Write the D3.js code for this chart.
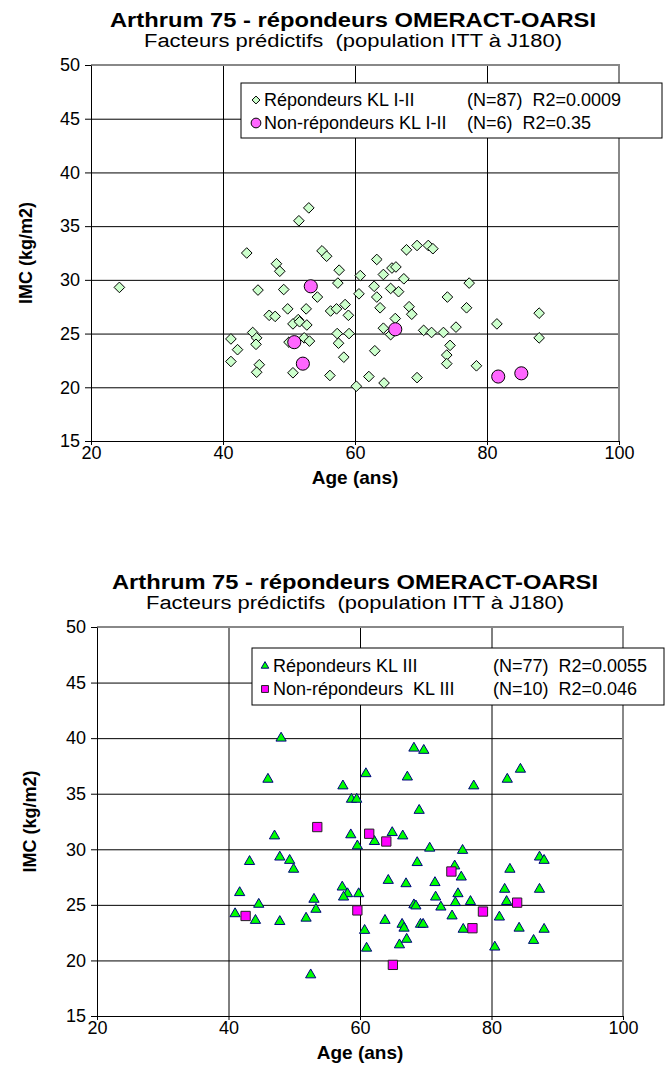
<!DOCTYPE html>
<html>
<head>
<meta charset="utf-8">
<script src="https://cdn.jsdelivr.net/npm/d3@7"></script>
<style>
  body { margin: 0; background: #fff; }
  svg text { font-family: "Liberation Sans", Arial, sans-serif; fill: #000; }
</style>
</head>
<body>
<div id="root"></div>
<script>
// ---- data ----
const titleText = "Arthrum 75 - répondeurs OMERACT-OARSI";
const subtitleText = "Facteurs prédictifs  (population ITT à J180)";
const xTicks = [20, 40, 60, 80, 100];
const yTicks = [15, 20, 25, 30, 35, 40, 45, 50];

// chart 1 : KL I-II
const rep12Age = [24.3,43.6,45.3,48.1,48.6,49.2,47.0,47.9,53.0,51.5,55.0,55.7,57.6,57.4,60.8,63.3,64.3,65.6,66.2,67.4,
  67.8,69.4,71.1,71.8,74.0,54.3,62.9,60.6,63.3,63.8,65.4,66.6,68.2,68.6,66.1,49.8,52.6,56.3,57.2,58.5,
  59.0,51.4,77.3,76.9,87.9,81.5,41.2,42.2,41.2,44.5,45.1,45.0,45.5,45.1,50.6,51.6,52.7,50.0,52.3,53.1,
  57.3,59.1,57.5,58.3,50.6,56.2,60.2,62.1,64.4,63.0,64.3,65.4,70.4,71.6,73.4,75.3,74.4,73.9,73.9,78.4,
  69.4,87.9];
const rep12Imc = [29.3,32.5,29.05,31.5,30.8,29.1,26.7,26.6,36.7,35.5,32.7,32.2,30.9,29.7,30.4,31.9,30.5,31.1,31.2,30.1,
  32.8,33.2,33.2,32.9,28.4,28.4,29.4,28.7,28.4,27.4,29.2,28.9,27.5,26.8,26.4,27.3,27.3,27.1,27.3,27.7,
  26.7,26.3,29.7,27.4,26.9,25.9,24.5,23.5,22.4,25.1,24.6,24.0,22.1,21.4,25.9,26.1,25.8,24.2,24.6,24.3,
  25.0,25.0,24.1,22.8,21.35,21.1,20.1,21.0,20.4,23.4,25.5,24.9,25.3,25.1,25.1,25.6,23.9,23.0,22.2,22.0,
  20.9,24.6];
const non12Age = [53.3, 50.8, 52.1, 66.1, 81.7, 85.2];
const non12Imc = [29.4, 24.2, 22.2, 25.4, 21.0, 21.3];
const legend12 = [
  ["Répondeurs KL I-II", "(N=87)  R2=0.0009"],
  ["Non-répondeurs KL I-II", "(N=6)  R2=0.35"]
];

// chart 2 : KL III
const rep3Age = [48.0,68.2,69.7,60.9,67.2,46.0,57.4,58.7,59.5,69.0,77.3,82.4,84.4,47.0,58.6,59.6,62.2,64.9,66.5,70.6,
  75.6,43.2,47.8,49.3,49.9,41.7,44.6,41.0,44.1,47.8,51.8,53.0,53.3,57.3,58.1,57.5,59.8,60.7,64.3,67.0,
  68.7,74.4,75.4,71.4,71.5,72.3,74.9,74.5,76.8,68.2,68.5,74.0,63.8,66.4,66.7,69.2,69.6,75.7,81.2,82.0,
  82.8,82.3,84.2,87.3,88.0,87.3,88.0,86.4,67.1,66.0,52.5,61.0,80.5];
const rep3Imc = [40.0,39.1,38.9,36.8,36.5,36.3,35.7,34.5,34.5,33.5,35.7,36.3,37.2,31.2,31.3,30.3,30.7,31.5,31.2,30.1,
  29.9,28.9,29.3,29.0,28.2,26.1,25.05,24.2,23.6,23.5,23.8,25.5,24.6,26.6,26.0,25.7,26.0,22.7,27.2,26.9,
  28.8,28.5,27.5,27.0,25.7,24.8,26.0,25.2,25.3,25.0,24.9,24.0,23.6,23.25,22.9,23.25,23.25,22.8,23.9,26.4,
  28.2,25.3,22.9,29.3,29.0,26.4,22.8,21.8,21.9,21.4,18.7,21.1,21.2];
const non3Age = [42.6, 53.5, 59.6, 61.4, 64.0, 65.0, 73.9, 77.1, 78.7, 83.9];
const non3Imc = [24.0, 32.0, 24.5, 31.4, 30.7, 19.6, 28.0, 22.9, 24.4, 25.2];
const legend3 = [
  ["Répondeurs KL III", "(N=77)  R2=0.0055"],
  ["Non-répondeurs  KL III", "(N=10)  R2=0.046"]
];

const svg = d3.select("#root")
  .append("svg")
  .attr("width", 666)
  .attr("height", 1082);

const zip = (a, b) => a.map((v, i) => [v, b[i]]);

// marker shapes
const shapes = {
  diamond: { type: d3.symbolDiamond2, size: 72, fill: "#ccffcc", stroke: "#000", sw: 1 },
  circle: { type: d3.symbolCircle, size: 135, fill: "#ff66ff", stroke: "#000", sw: 1 },
  triangle: { type: d3.symbolTriangle2, size: 75, fill: "#00ff00", stroke: "#000080", sw: 1 },
  square: { type: d3.symbolSquare2, size: 110, fill: "#ff00ff", stroke: "#222", sw: 1 }
};

function drawChart(c) {
  const x = d3.scaleLinear().domain([20, 100]).range([c.left, c.right]);
  const y = d3.scaleLinear().domain([15, 50]).range([c.bottom, c.top]);
  const g = svg.append("g");

  // title
  g.append("text")
    .attr("x", (c.left + c.right) / 2 + c.titleDx)
    .attr("y", c.titleY)
    .attr("text-anchor", "middle")
    .style("font-size", "21px")
    .style("font-weight", "bold")
    .attr("textLength", 486)
    .attr("lengthAdjust", "spacingAndGlyphs")
    .text(titleText);
  g.append("text")
    .attr("x", (c.left + c.right) / 2 + c.titleDx)
    .attr("y", c.titleY + 20)
    .attr("text-anchor", "middle")
    .style("font-size", "18px")
    .style("white-space", "pre")
    .attr("textLength", 418)
    .attr("lengthAdjust", "spacingAndGlyphs")
    .text(subtitleText);

  // gridlines
  g.append("g")
    .attr("transform", "translate(" + c.left + ",0)")
    .call(d3.axisLeft(y).tickValues(yTicks).tickSize(-(c.right - c.left)).tickFormat(""))
    .call(s => s.select(".domain").remove())
    .call(s => s.selectAll("line").attr("stroke", "#000"));
  g.append("g")
    .attr("transform", "translate(0," + c.bottom + ")")
    .call(d3.axisBottom(x).tickValues(xTicks).tickSize(-(c.bottom - c.top)).tickFormat(""))
    .call(s => s.select(".domain").remove())
    .call(s => s.selectAll("line").attr("stroke", "#000"));

  // plot border (grey top / right)
  g.append("path")
    .attr("d", `M${c.left},${c.top}H${c.right}V${c.bottom}`)
    .attr("fill", "none")
    .attr("stroke", "#888")
    .attr("stroke-width", 2);

  // axes
  g.append("g")
    .attr("transform", "translate(" + c.left + ",0)")
    .call(d3.axisLeft(y).tickValues(yTicks).tickSize(6).tickSizeOuter(0).tickPadding(5))
    .call(s => s.selectAll("text").style("font-size", "18px"));
  g.append("g")
    .attr("transform", "translate(0," + c.bottom + ")")
    .call(d3.axisBottom(x).tickValues(xTicks).tickSize(4).tickSizeOuter(0).tickPadding(1))
    .call(s => s.selectAll("text").style("font-size", "18px"));

  // axis titles
  g.append("text")
    .attr("x", (c.left + c.right) / 2)
    .attr("y", c.bottom + 43)
    .attr("text-anchor", "middle")
    .style("font-size", "19px")
    .style("font-weight", "bold")
    .text("Age (ans)");
  g.append("text")
    .attr("transform", `translate(${c.ytitleX},${(c.top + c.bottom) / 2}) rotate(-90)`)
    .attr("text-anchor", "middle")
    .style("font-size", "18px")
    .style("font-weight", "bold")
    .text("IMC (kg/m2)");

  // points
  c.series.forEach(sr => {
    const sh = shapes[sr.shape];
    g.append("g").selectAll("path")
      .data(zip(sr.ages, sr.imc))
      .enter()
      .append("path")
      .attr("transform", d => `translate(${x(d[0])},${y(d[1])})`)
      .attr("d", d3.symbol().type(sh.type).size(sh.size))
      .attr("fill", sh.fill)
      .attr("stroke", sh.stroke)
      .attr("stroke-width", sh.sw);
  });

  // legend
  const lg = g.append("g");
  lg.append("rect")
    .attr("x", c.leg.x).attr("y", c.leg.y)
    .attr("width", c.leg.w).attr("height", c.leg.h)
    .attr("fill", "#fff").attr("stroke", "#000");
  c.series.forEach((sr, i) => {
    const sh = shapes[sr.shape];
    const cy = c.leg.y + c.leg.row0 + i * c.leg.dy;
    lg.append("path")
      .attr("transform", `translate(${c.leg.x + c.leg.mx},${cy})`)
      .attr("d", d3.symbol().type(sh.type).size(sh.size * 0.55))
      .attr("fill", sh.fill)
      .attr("stroke", sh.stroke);
    lg.append("text")
      .attr("x", c.leg.x + c.leg.tx).attr("y", cy + 6)
      .style("font-size", "18px")
      .style("white-space", "pre")
      .text(sr.label[0]);
    lg.append("text")
      .attr("x", c.leg.statX).attr("y", cy + 6)
      .style("font-size", "18px")
      .style("white-space", "pre")
      .text(sr.label[1]);
  });
}

drawChart({
  left: 91, right: 619, top: 65, bottom: 441,
  titleY: 27, titleDx: -2, ytitleX: 32,
  leg: { x: 241, y: 83, w: 421, h: 55, row0: 17, dy: 23, mx: 15, tx: 23, statX: 467 },
  series: [
    { shape: "diamond", ages: rep12Age, imc: rep12Imc, label: legend12[0] },
    { shape: "circle", ages: non12Age, imc: non12Imc, label: legend12[1] }
  ]
});

drawChart({
  left: 97, right: 623, top: 627, bottom: 1016,
  titleY: 589, titleDx: -5, ytitleX: 36,
  leg: { x: 252, y: 648, w: 412, h: 57, row0: 18, dy: 23, mx: 13, tx: 21, statX: 493 },
  series: [
    { shape: "triangle", ages: rep3Age, imc: rep3Imc, label: legend3[0] },
    { shape: "square", ages: non3Age, imc: non3Imc, label: legend3[1] }
  ]
});
</script>
</body>
</html>
